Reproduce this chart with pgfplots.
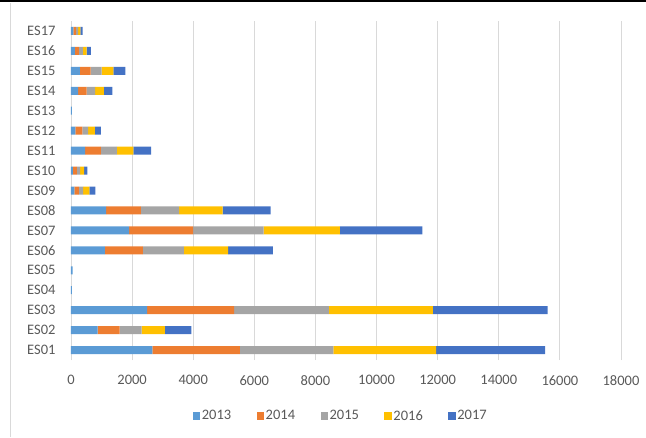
\documentclass[border=0pt]{standalone}
\usepackage{pgfplots}
\usepackage{pgfplotstable}
\pgfplotsset{compat=1.18}
\usepackage{fontspec}
\setmainfont{Carlito}
\definecolor{c13}{HTML}{5B9BD5}
\definecolor{c14}{HTML}{ED7D31}
\definecolor{c15}{HTML}{A5A5A5}
\definecolor{c16}{HTML}{FFC000}
\definecolor{c17}{HTML}{4472C4}
\definecolor{txt}{HTML}{595959}
\definecolor{gridc}{HTML}{D9D9D9}
\pgfplotstableread{
pos a b c d e
1 2660 2870 3060 3360 3570
2 870 720 720 760 870
3 2490 2850 3100 3400 3760
4 30 0 0 0 0
5 50 0 0 0 0
6 1110 1240 1340 1450 1470
7 1900 2100 2300 2500 2700
8 1150 1140 1250 1420 1570
9 110 150 140 200 200
10 60 130 110 130 110
11 460 520 520 545 580
12 140 230 190 220 200
13 30 0 0 0 0
14 230 280 280 290 270
15 290 350 360 390 390
16 130 130 130 120 140
17 80 80 70 80 70
}\data
\begin{document}
\begin{tikzpicture}[x=1pt,y=1pt]
\useasboundingbox (0,0) rectangle (646,437);
\fill[black] (0,434.5) rectangle (646,437);
\draw[gridc,line width=0.8pt] (10,0) -- (10,434);
\begin{axis}[
  at={(71pt,77pt)}, anchor=south west,
  scale only axis, width=550pt, height=339pt,
  xbar stacked, bar width=8pt,
  xmin=0, xmax=18000, ymin=0.5, ymax=17.5,
  xtick={0,2000,...,18000},
  scaled ticks=false,
  ytick={1,...,17},
  yticklabels={ES01,ES02,ES03,ES04,ES05,ES06,ES07,ES08,ES09,ES10,ES11,ES12,ES13,ES14,ES15,ES16,ES17},
  /pgf/number format/1000 sep={},
  /pgf/number format/assume math mode=true,
  major tick length=0pt,
  xmajorgrids=true, ymajorgrids=false,
  grid style={draw=gridc, line width=0.8pt},
  axis lines=left,
  x axis line style={draw=none},
  y axis line style={draw=gridc, line width=0.8pt, -},
  tick style={draw=none},
  tick label style={font=\fontsize{14.5}{17}\selectfont, text=txt},
  xticklabel style={yshift=-12pt},
  yticklabel style={xshift=-12pt},
  legend style={at={(0.491,-0.165)}, anchor=center, draw=none, fill=none,
     legend columns=-1, font=\fontsize{14.5}{17}\selectfont, text=txt,
     /tikz/every odd column/.append style={column sep=-1pt},
     /tikz/every even column/.append style={column sep=23pt},
     nodes={inner xsep=2.5pt}},
  legend image code/.code={\fill[#1] (0pt,-3.8pt) rectangle (7.5pt,3.7pt);},
  legend cell align=left,
]
\addplot[fill=c13, draw=none] table[x=a, y=pos] {\data};
\addplot[fill=c14, draw=none] table[x=b, y=pos] {\data};
\addplot[fill=c15, draw=none] table[x=c, y=pos] {\data};
\addplot[fill=c16, draw=none] table[x=d, y=pos] {\data};
\addplot[fill=c17, draw=none] table[x=e, y=pos] {\data};
\legend{2013,2014,2015,2016,2017}
\end{axis}
\end{tikzpicture}
\end{document}
